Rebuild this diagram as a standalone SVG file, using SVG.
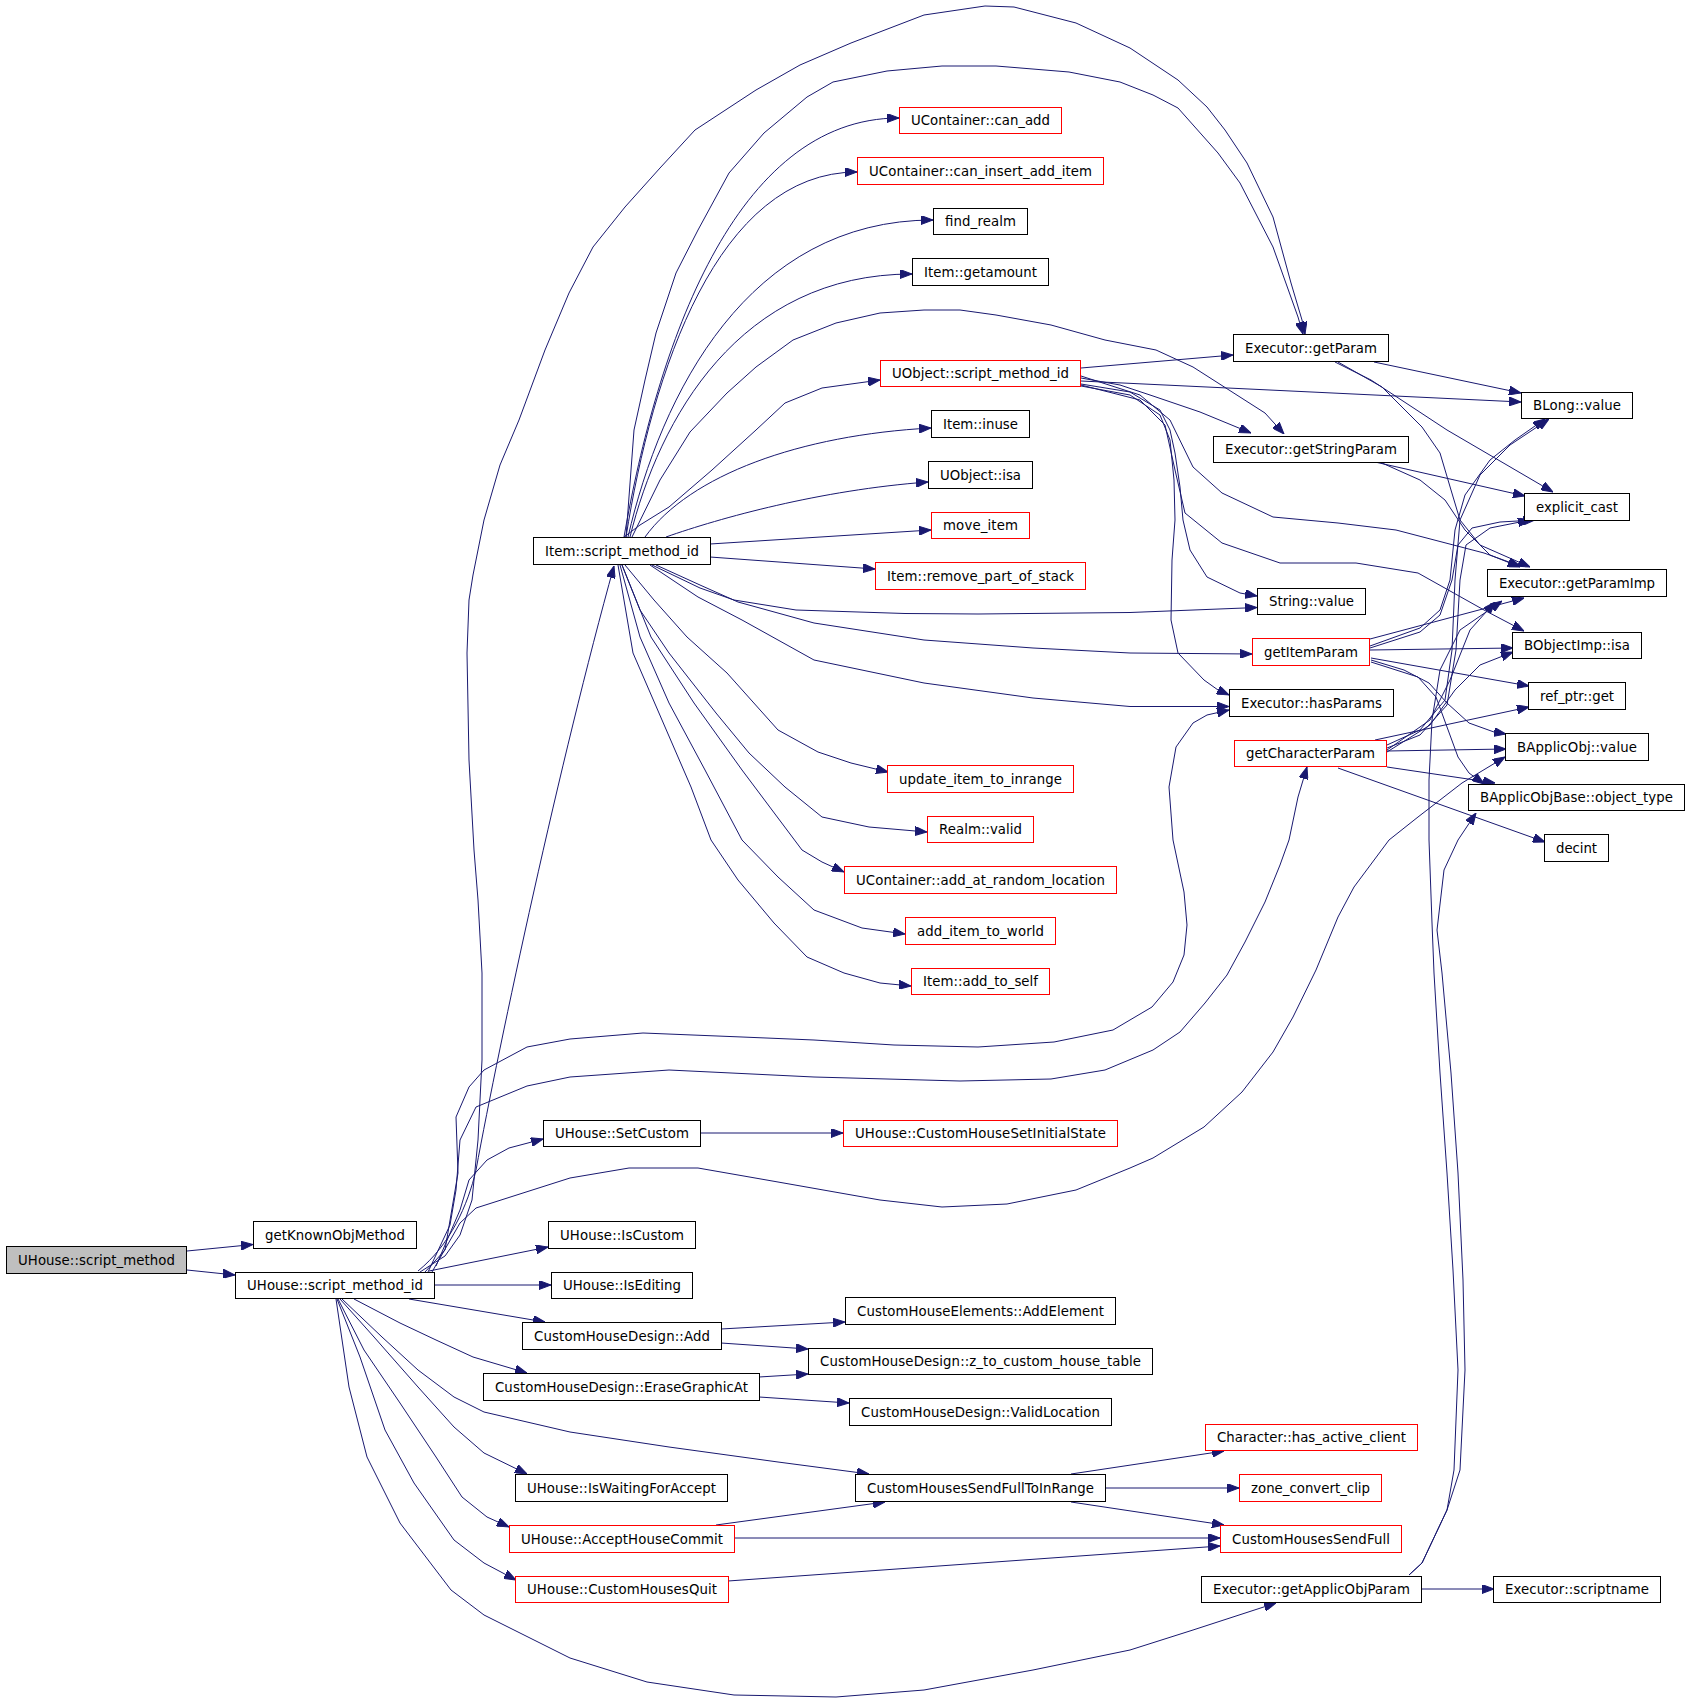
<svg xmlns="http://www.w3.org/2000/svg" width="1691" height="1703" viewBox="0 0 1691 1703">
<defs>
<marker id="a" markerWidth="12" markerHeight="9" refX="12" refY="4.5" orient="auto" markerUnits="userSpaceOnUse"><path d="M0,0 L12,4.5 L0,9 z" fill="#191970" stroke="#191970" stroke-width="1"/></marker>
<style>
.n rect{fill:#fff;stroke:#000;stroke-width:1}
.r rect{stroke:#f00}
.g rect{fill:#bfbfbf}
.n text{font-family:"DejaVu Sans","Liberation Sans",sans-serif;font-size:13.3px;fill:#000;text-anchor:middle}
#edges path{fill:none;stroke:#191970;stroke-width:1;stroke-linejoin:round;marker-end:url(#a)}
</style>
</defs>
<rect width="1691" height="1703" fill="#fff"/>
<g id="edges">
<path d="M187,1251 L253,1244.5"/>
<path d="M187,1270 L235,1275"/>
<path d="M418,1271 C450,1245 468,1205 476,1170 C500,1040 560,760 614,566"/>
<path d="M420,1272 L445,1256 L460,1235 L472,1200 L478,1140 L482,1060 L482,973 L478,900 L474,850 L469,760 L467,653 L469,600 L473,575 L484,520 L500,465 L519,420 L545,350 L569,293 L593,247 L625,207 L660,168 L695,130 L756,90 L800,65 L851,43 L924,15 L985,6 L1014,7 L1076,23 L1130,48 L1178,80 L1207,107 L1225,130 L1247,163 L1273,217 L1291,283 L1302,320 L1305,334"/>
<path d="M626,537 L634,430 L645,380 L656,333 L676,273 L698,230 L729,173 L764,133 L807,97 L833,82 L887,71 L942,66 L996,66 L1069,72 L1120,82 L1153,95 L1178,108 L1218,153 L1240,183 L1273,247 L1298,317 L1303,334"/>
<path d="M624,537 C657,348 734,118 899,118"/>
<path d="M626,537 C652,373 717,172 857,172"/>
<path d="M628,537 C661,394 748,220 933,220"/>
<path d="M630,537 C659,419 739,274 912,274"/>
<path d="M632,537 L660,480 L690,432 L727,393 L756,367 L793,340 L836,323 L880,313 L924,310 L960,310 L996,315 L1051,325 L1105,340 L1156,350 L1193,367 L1229,390 L1265,413 L1284,434"/>
<path d="M624,537 L640,525 L669,507 L712,470 L756,430 L785,403 L822,388 L880,380"/>
<path d="M645,537 C690,475 800,435 931,428"/>
<path d="M666,537 C720,518 820,490 928,482"/>
<path d="M710,544 L931,530"/>
<path d="M710,557 L875,569"/>
<path d="M652,565 L700,588 L734,600 L796,610 L905,613.5 L978,614 L1130,612.5 L1257,607.5"/>
<path d="M656,565 L700,585 L738,602 L814,623 L924,640 L1033,648 L1130,653 L1252,654"/>
<path d="M650,565 L698,597 L742,620 L814,660 L924,683 L1033,698 L1130,706.5 L1229,706.5"/>
<path d="M625,565 L654,600 L687,637 L727,673 L778,730 L818,752 L851,763 L888,772"/>
<path d="M622,565 L640,610 L669,653 L716,713 L749,753 L785,787 L822,817 L869,827 L927,832"/>
<path d="M622,565 L651,637 L694,703 L742,770 L802,850 L822,862 L844,872"/>
<path d="M620,565 L640,637 L669,703 L705,770 L742,840 L778,877 L814,910 L862,928 L905,934"/>
<path d="M618,565 L633,653 L662,720 L691,787 L711,840 L738,880 L774,923 L807,957 L844,973 L880,983 L911,986"/>
<path d="M1081,368 L1233,355"/>
<path d="M1081,381 L1521,402"/>
<path d="M1081,378 L1120,385 L1153,396 L1200,412 L1251,433"/>
<path d="M1081,384 L1130,392 L1160,410 L1170,430 L1175,453 L1180,487 L1183,520 L1190,550 L1207,577 L1240,593 L1257,596"/>
<path d="M1081,386 L1130,395 L1160,415 L1170,440 L1174,480 L1175,520 L1172,560 L1171,620 L1178,653 L1204,680 L1218,690 L1229,695"/>
<path d="M1081,376 L1140,395 L1170,420 L1193,467 L1222,493 L1273,517 L1338,523 L1396,530 L1484,553 L1520,566"/>
<path d="M1081,385 L1140,400 L1165,425 L1175,470 L1185,513 L1222,543 L1280,563 L1356,563 L1418,573 L1484,610 L1524,631"/>
<path d="M1374,362 L1521,393"/>
<path d="M1335,362 L1371,380 L1447,430 L1553,492"/>
<path d="M1338,362 L1382,387 L1422,427 L1440,453 L1451,490 L1460,520 L1480,545 L1530,567"/>
<path d="M1375,462 L1525,496"/>
<path d="M1382,463 L1420,480 L1445,500 L1465,530 L1490,555 L1520,567"/>
<path d="M1370,646 L1420,628 L1440,610 L1450,580 L1455,530 L1465,495 L1490,460 L1515,440 L1545,419"/>
<path d="M1370,648 L1420,632 L1440,615 L1452,580 L1458,545 L1472,528 L1500,522 L1535,520"/>
<path d="M1370,639 L1524,598"/>
<path d="M1370,650 L1513,648"/>
<path d="M1371,658 L1529,686"/>
<path d="M1371,660 L1404,670 L1429,683 L1447,703 L1469,723 L1494,732 L1506,734"/>
<path d="M1371,662 L1418,677 L1436,697 L1447,727 L1458,757 L1469,773 L1484,784"/>
<path d="M1387,745 L1420,730 L1445,700 L1452,650 L1455,580 L1460,520 L1480,475 L1510,445 L1549,419"/>
<path d="M1387,748 L1420,735 L1447,705 L1456,650 L1460,580 L1466,545 L1490,528 L1530,520"/>
<path d="M1387,750 L1430,720 L1450,680 L1470,630 L1495,602"/>
<path d="M1387,752 L1430,725 L1455,690 L1480,665 L1513,652"/>
<path d="M1375,740 L1529,707"/>
<path d="M1387,751 L1506,749"/>
<path d="M1387,767 L1495,783"/>
<path d="M1338,768 L1545,842"/>
<path d="M1421,1589 L1494,1589"/>
<path d="M1409,1575 L1422,1563 L1447,1510 L1460,1470 L1465,1370 L1463,1280 L1458,1173 L1451,1073 L1442,973 L1437,930 L1444,870 L1458,840 L1476,813"/>
<path d="M1409,1575 L1422,1563 L1447,1510 L1454,1470 L1458,1370 L1453,1270 L1447,1173 L1440,1073 L1434,973 L1432,923 L1429,840 L1429,780 L1432,720 L1440,670 L1460,630 L1502,601"/>
<path d="M425,1272 L445,1250 L458,1173 L456,1117 L469,1087 L484,1070 L527,1047 L570,1039 L643,1033 L742,1037 L814,1040 L894,1045 L978,1047 L1054,1042 L1113,1030 L1152,1007 L1173,982 L1184,955 L1187,925 L1184,892 L1173,840 L1169,787 L1176,747 L1193,723 L1207,715 L1229,710"/>
<path d="M428,1272 L450,1225 L456,1190 L460,1140 L476,1107 L527,1086 L570,1077 L669,1070 L814,1077 L960,1081 L1051,1079 L1105,1070 L1153,1050 L1180,1032 L1205,1003 L1227,975 L1245,942 L1265,902 L1280,865 L1289,840 L1298,797 L1307,767"/>
<path d="M432,1272 L460,1223 L476,1208 L570,1178 L629,1168 L698,1168 L778,1182 L880,1200 L942,1207 L1007,1204 L1076,1190 L1130,1168 L1153,1158 L1204,1127 L1242,1092 L1273,1052 L1293,1017 L1316,970 L1338,917 L1354,887 L1389,840 L1418,817 L1462,783 L1505,757"/>
<path d="M436,1266 L460,1210 L469,1180 L487,1160 L509,1148 L543,1139"/>
<path d="M429,1271 L548,1247"/>
<path d="M434,1285 L551,1285"/>
<path d="M409,1299 L545,1322"/>
<path d="M354,1299 L400,1323 L436,1340 L473,1357 L527,1373"/>
<path d="M342,1299 L382,1337 L418,1370 L454,1397 L484,1412 L570,1432 L669,1447 L778,1462 L869,1474"/>
<path d="M340,1299 L374,1337 L418,1387 L454,1427 L484,1453 L527,1474"/>
<path d="M338,1299 L364,1350 L400,1403 L436,1457 L462,1497 L487,1517 L509,1527"/>
<path d="M337,1299 L360,1357 L385,1430 L414,1483 L454,1540 L484,1563 L516,1580"/>
<path d="M336,1299 L349,1387 L367,1457 L400,1523 L451,1590 L484,1615 L570,1658 L647,1682 L734,1695 L836,1697 L924,1690 L1033,1670 L1130,1650 L1193,1630 L1276,1603"/>
<path d="M700,1133 L843,1133"/>
<path d="M721,1329 L845,1322"/>
<path d="M721,1343 L808,1349"/>
<path d="M759,1377 L808,1374"/>
<path d="M759,1397 L849,1403"/>
<path d="M1071,1474 L1224,1451"/>
<path d="M1105,1488 L1239,1488"/>
<path d="M1071,1502 L1224,1525"/>
<path d="M716,1525 L885,1502"/>
<path d="M734,1538 L1220,1538"/>
<path d="M728,1581 L1220,1546"/>
</g>
<g id="n1" class="n g"><rect x="6.5" y="1246.5" width="180" height="27"/><text x="96.5" y="1264.5" textLength="157" lengthAdjust="spacing">UHouse::script_method</text></g>
<g id="n2" class="n"><rect x="253.5" y="1221.5" width="163" height="27"/><text x="335" y="1239.5" textLength="140" lengthAdjust="spacing">getKnownObjMethod</text></g>
<g id="n3" class="n"><rect x="235.5" y="1272.5" width="199" height="26"/><text x="335" y="1290" textLength="176" lengthAdjust="spacing">UHouse::script_method_id</text></g>
<g id="n4" class="n"><rect x="533.5" y="537.5" width="177" height="27"/><text x="622" y="555.5" textLength="154" lengthAdjust="spacing">Item::script_method_id</text></g>
<g id="n5" class="n r"><rect x="899.5" y="107.5" width="162" height="26"/><text x="980.5" y="125" textLength="139" lengthAdjust="spacing">UContainer::can_add</text></g>
<g id="n6" class="n r"><rect x="857.5" y="157.5" width="246" height="27"/><text x="980.5" y="175.5" textLength="223" lengthAdjust="spacing">UContainer::can_insert_add_item</text></g>
<g id="n7" class="n"><rect x="933.5" y="208.5" width="94" height="26"/><text x="980.5" y="226" textLength="71" lengthAdjust="spacing">find_realm</text></g>
<g id="n8" class="n"><rect x="912.5" y="258.5" width="136" height="27"/><text x="980.5" y="276.5" textLength="113" lengthAdjust="spacing">Item::getamount</text></g>
<g id="n9" class="n r"><rect x="880.5" y="360.5" width="200" height="26"/><text x="980.5" y="378" textLength="177" lengthAdjust="spacing">UObject::script_method_id</text></g>
<g id="n10" class="n"><rect x="931.5" y="410.5" width="98" height="27"/><text x="980.5" y="428.5" textLength="75" lengthAdjust="spacing">Item::inuse</text></g>
<g id="n11" class="n"><rect x="928.5" y="461.5" width="104" height="27"/><text x="980.5" y="479.5" textLength="81" lengthAdjust="spacing">UObject::isa</text></g>
<g id="n12" class="n r"><rect x="931.5" y="512.5" width="98" height="26"/><text x="980.5" y="530" textLength="75" lengthAdjust="spacing">move_item</text></g>
<g id="n13" class="n r"><rect x="875.5" y="562.5" width="210" height="27"/><text x="980.5" y="580.5" textLength="187" lengthAdjust="spacing">Item::remove_part_of_stack</text></g>
<g id="n14" class="n r"><rect x="887.5" y="765.5" width="186" height="27"/><text x="980.5" y="783.5" textLength="163" lengthAdjust="spacing">update_item_to_inrange</text></g>
<g id="n15" class="n r"><rect x="927.5" y="816.5" width="106" height="26"/><text x="980.5" y="834" textLength="83" lengthAdjust="spacing">Realm::valid</text></g>
<g id="n16" class="n r"><rect x="844.5" y="866.5" width="272" height="27"/><text x="980.5" y="884.5" textLength="249" lengthAdjust="spacing">UContainer::add_at_random_location</text></g>
<g id="n17" class="n r"><rect x="905.5" y="917.5" width="150" height="27"/><text x="980.5" y="935.5" textLength="127" lengthAdjust="spacing">add_item_to_world</text></g>
<g id="n18" class="n r"><rect x="911.5" y="968.5" width="138" height="26"/><text x="980.5" y="986" textLength="115" lengthAdjust="spacing">Item::add_to_self</text></g>
<g id="n19" class="n"><rect x="1233.5" y="334.5" width="155" height="27"/><text x="1311" y="352.5" textLength="132" lengthAdjust="spacing">Executor::getParam</text></g>
<g id="n20" class="n"><rect x="1521.5" y="392.5" width="111" height="26"/><text x="1577" y="410" textLength="88" lengthAdjust="spacing">BLong::value</text></g>
<g id="n21" class="n"><rect x="1213.5" y="436.5" width="195" height="26"/><text x="1311" y="454" textLength="172" lengthAdjust="spacing">Executor::getStringParam</text></g>
<g id="n22" class="n"><rect x="1524.5" y="493.5" width="105" height="27"/><text x="1577" y="511.5" textLength="82" lengthAdjust="spacing">explicit_cast</text></g>
<g id="n23" class="n"><rect x="1487.5" y="569.5" width="179" height="27"/><text x="1577" y="587.5" textLength="156" lengthAdjust="spacing">Executor::getParamImp</text></g>
<g id="n24" class="n"><rect x="1257.5" y="588.5" width="108" height="26"/><text x="1311.5" y="606" textLength="85" lengthAdjust="spacing">String::value</text></g>
<g id="n25" class="n r"><rect x="1252.5" y="638.5" width="117" height="27"/><text x="1311" y="656.5" textLength="94" lengthAdjust="spacing">getItemParam</text></g>
<g id="n26" class="n"><rect x="1512.5" y="632.5" width="129" height="26"/><text x="1577" y="650" textLength="106" lengthAdjust="spacing">BObjectImp::isa</text></g>
<g id="n27" class="n"><rect x="1229.5" y="689.5" width="164" height="27"/><text x="1311.5" y="707.5" textLength="141" lengthAdjust="spacing">Executor::hasParams</text></g>
<g id="n28" class="n"><rect x="1528.5" y="682.5" width="97" height="27"/><text x="1577" y="700.5" textLength="74" lengthAdjust="spacing">ref_ptr::get</text></g>
<g id="n29" class="n r"><rect x="1234.5" y="740.5" width="152" height="26"/><text x="1310.5" y="758" textLength="129" lengthAdjust="spacing">getCharacterParam</text></g>
<g id="n30" class="n"><rect x="1505.5" y="733.5" width="143" height="27"/><text x="1577" y="751.5" textLength="120" lengthAdjust="spacing">BApplicObj::value</text></g>
<g id="n31" class="n"><rect x="1468.5" y="784.5" width="216" height="26"/><text x="1576.5" y="802" textLength="193" lengthAdjust="spacing">BApplicObjBase::object_type</text></g>
<g id="n32" class="n"><rect x="1544.5" y="834.5" width="64" height="27"/><text x="1576.5" y="852.5" textLength="41" lengthAdjust="spacing">decint</text></g>
<g id="n33" class="n"><rect x="543.5" y="1120.5" width="157" height="26"/><text x="622" y="1138" textLength="134" lengthAdjust="spacing">UHouse::SetCustom</text></g>
<g id="n34" class="n r"><rect x="843.5" y="1120.5" width="274" height="26"/><text x="980.5" y="1138" textLength="251" lengthAdjust="spacing">UHouse::CustomHouseSetInitialState</text></g>
<g id="n35" class="n"><rect x="548.5" y="1221.5" width="147" height="27"/><text x="622" y="1239.5" textLength="124" lengthAdjust="spacing">UHouse::IsCustom</text></g>
<g id="n36" class="n"><rect x="551.5" y="1272.5" width="141" height="26"/><text x="622" y="1290" textLength="118" lengthAdjust="spacing">UHouse::IsEditing</text></g>
<g id="n37" class="n"><rect x="845.5" y="1297.5" width="270" height="27"/><text x="980.5" y="1315.5" textLength="247" lengthAdjust="spacing">CustomHouseElements::AddElement</text></g>
<g id="n38" class="n"><rect x="522.5" y="1322.5" width="199" height="27"/><text x="622" y="1340.5" textLength="176" lengthAdjust="spacing">CustomHouseDesign::Add</text></g>
<g id="n39" class="n"><rect x="808.5" y="1348.5" width="344" height="26"/><text x="980.5" y="1366" textLength="321" lengthAdjust="spacing">CustomHouseDesign::z_to_custom_house_table</text></g>
<g id="n40" class="n"><rect x="483.5" y="1373.5" width="276" height="27"/><text x="621.5" y="1391.5" textLength="253" lengthAdjust="spacing">CustomHouseDesign::EraseGraphicAt</text></g>
<g id="n41" class="n"><rect x="849.5" y="1398.5" width="262" height="27"/><text x="980.5" y="1416.5" textLength="239" lengthAdjust="spacing">CustomHouseDesign::ValidLocation</text></g>
<g id="n42" class="n r"><rect x="1205.5" y="1424.5" width="212" height="26"/><text x="1311.5" y="1442" textLength="189" lengthAdjust="spacing">Character::has_active_client</text></g>
<g id="n43" class="n"><rect x="515.5" y="1474.5" width="212" height="27"/><text x="621.5" y="1492.5" textLength="189" lengthAdjust="spacing">UHouse::IsWaitingForAccept</text></g>
<g id="n44" class="n"><rect x="855.5" y="1474.5" width="250" height="27"/><text x="980.5" y="1492.5" textLength="227" lengthAdjust="spacing">CustomHousesSendFullToInRange</text></g>
<g id="n45" class="n r"><rect x="1239.5" y="1474.5" width="142" height="27"/><text x="1310.5" y="1492.5" textLength="119" lengthAdjust="spacing">zone_convert_clip</text></g>
<g id="n46" class="n r"><rect x="509.5" y="1525.5" width="225" height="27"/><text x="622" y="1543.5" textLength="202" lengthAdjust="spacing">UHouse::AcceptHouseCommit</text></g>
<g id="n47" class="n r"><rect x="1220.5" y="1525.5" width="181" height="27"/><text x="1311" y="1543.5" textLength="158" lengthAdjust="spacing">CustomHousesSendFull</text></g>
<g id="n48" class="n r"><rect x="515.5" y="1576.5" width="213" height="26"/><text x="622" y="1594" textLength="190" lengthAdjust="spacing">UHouse::CustomHousesQuit</text></g>
<g id="n49" class="n"><rect x="1201.5" y="1576.5" width="220" height="26"/><text x="1311.5" y="1594" textLength="197" lengthAdjust="spacing">Executor::getApplicObjParam</text></g>
<g id="n50" class="n"><rect x="1493.5" y="1576.5" width="167" height="26"/><text x="1577" y="1594" textLength="144" lengthAdjust="spacing">Executor::scriptname</text></g>
</svg>
